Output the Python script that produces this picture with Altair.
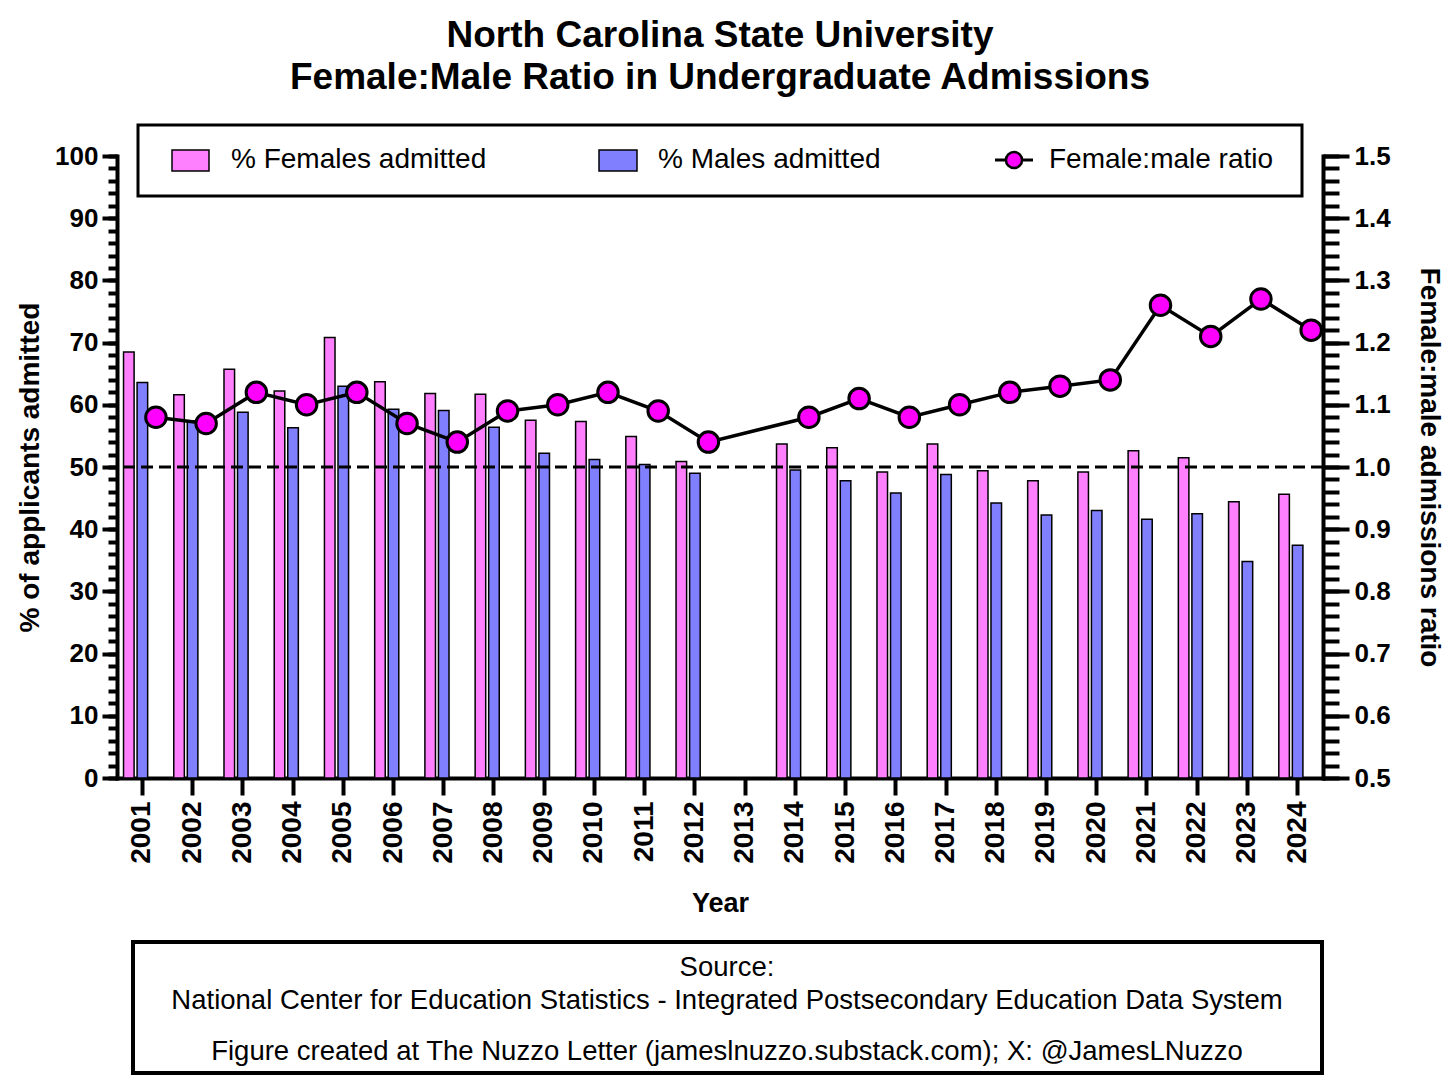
import altair as alt
import pandas as pd

# ---------------- data ----------------
YEARS = ["2001", "2002", "2003", "2004", "2005", "2006", "2007", "2008", "2009", "2010",
         "2011", "2012", "2013", "2014", "2015", "2016", "2017", "2018", "2019", "2020",
         "2021", "2022", "2023", "2024"]
DATA_YEARS = ["2001", "2002", "2003", "2004", "2005", "2006", "2007", "2008", "2009", "2010",
              "2011", "2012", "2014", "2015", "2016", "2017", "2018", "2019", "2020",
              "2021", "2022", "2023", "2024"]
FEMALE = [68.5, 61.6, 65.7, 62.2, 70.8, 63.7, 61.8, 61.7, 57.5, 57.3, 54.9, 50.9,
          53.7, 53.1, 49.2, 53.7, 49.4, 47.8, 49.2, 52.6, 51.5, 44.4, 45.6]
MALE = [63.6, 57.4, 58.8, 56.3, 63.0, 59.3, 59.1, 56.4, 52.2, 51.2, 50.4, 49.0,
        49.5, 47.8, 45.8, 48.8, 44.2, 42.3, 43.0, 41.6, 42.5, 34.8, 37.4]
RATIO = [1.08, 1.07, 1.12, 1.10, 1.12, 1.07, 1.04, 1.09, 1.10, 1.12, 1.09, 1.04,
         1.08, 1.11, 1.08, 1.10, 1.12, 1.13, 1.14, 1.26, 1.21, 1.27, 1.22]
REF_LEVEL = [50]

TITLE_LINES = ["North Carolina State University",
               "Female:Male Ratio in Undergraduate Admissions"]
LEGEND_LABELS = ["% Females admitted", "% Males admitted", "Female:male ratio"]
SOURCE_LINES = ["Source:",
                "National Center for Education Statistics - Integrated Postsecondary Education Data System",
                "Figure created at The Nuzzo Letter (jameslnuzzo.substack.com); X: @JamesLNuzzo"]
X_TITLE = "Year"
Y_LEFT_TITLE = "% of applicants admitted"
Y_RIGHT_TITLE = "Female:male admissions ratio"

# ---------------- styling ----------------
FONT = "Liberation Sans"
PINK = "#FF80FF"
BLUE = "#8080FF"
MAGENTA = "#FF00FF"
W, H = 1206, 622

n = len(DATA_YEARS)
bars_df = pd.DataFrame({
    "year": DATA_YEARS + DATA_YEARS,
    "slot": ["F"] * n + ["M"] * n,
    "value": FEMALE + MALE,
})
ratio_df = pd.DataFrame({"year": DATA_YEARS, "slot": ["R"] * n, "ratio": RATIO})
ref_df = pd.DataFrame({"v": REF_LEVEL})

XS = alt.Scale(domain=YEARS, paddingInner=0.25, paddingOuter=0.13)
XOS = alt.Scale(domain=["F", "M", "R"], paddingInner=0.22, paddingOuter=0)
YL = alt.Scale(domain=[0, 100], nice=False, zero=True)
YR = alt.Scale(domain=[0.5, 1.5], nice=False, zero=False)

x_axis = alt.Axis(orient="bottom", title=X_TITLE, labelAngle=270, labelAlign="right",
                  labelBaseline="middle", labelFontSize=28, labelFontWeight="bold", labelPadding=6,
                  tickSize=17, tickWidth=4, domainWidth=4, domainCap="square",
                  titleFontSize=27, titleFontWeight="bold", titlePadding=27)

left_major = alt.Axis(orient="left", values=list(range(0, 101, 10)), tickSize=15, tickWidth=4,
                      domainWidth=4, domainCap="square", labelFontSize=26, labelFontWeight="bold",
                      labelPadding=4, labelFlush=False, labelOverlap=False,
                      title=Y_LEFT_TITLE, titleFontSize=28, titleFontWeight="bold", titlePadding=10)
left_minor = alt.Axis(orient="left", values=list(range(0, 101, 2)), tickSize=9, tickWidth=4,
                      labels=False, domain=False, title=None)

right_major = alt.Axis(orient="right", values=[round(0.5 + 0.1 * i, 2) for i in range(11)],
                       format=".1f", tickSize=26, tickWidth=4, domainWidth=4, domainCap="square",
                       labelFontSize=26, labelFontWeight="bold", labelPadding=5, labelFlush=False,
                       labelOverlap=False, title=Y_RIGHT_TITLE, titleFontSize=28,
                       titleFontWeight="bold", titlePadding=24)
right_minor = alt.Axis(orient="right", values=[round(0.5 + 0.02 * i, 2) for i in range(51)],
                       tickSize=16, tickWidth=4, labels=False, domain=False, title=None)

X_ENC = alt.X("year:N", scale=XS, axis=x_axis)
XO_ENC = alt.XOffset("slot:N", scale=XOS)

bars = alt.Chart(bars_df).mark_bar(stroke="black", strokeWidth=1.5).encode(
    x=X_ENC,
    xOffset=XO_ENC,
    y=alt.Y("value:Q", scale=YL, axis=left_major),
    color=alt.Color("slot:N", scale=alt.Scale(domain=["F", "M"], range=[PINK, BLUE]), legend=None),
)

ref_rule = alt.Chart(ref_df).mark_rule(color="black", strokeWidth=3, strokeDash=[12, 6]).encode(
    y=alt.Y("v:Q", scale=YL, axis=left_minor),
)

line = alt.Chart(ratio_df).mark_line(color="black", strokeWidth=3.5).encode(
    x=X_ENC,
    xOffset=XO_ENC,
    y=alt.Y("ratio:Q", scale=YR, axis=right_major),
)

points = alt.Chart(ratio_df).mark_circle(size=420, fill=MAGENTA, stroke="black",
                                         strokeWidth=3, opacity=1).encode(
    x=X_ENC,
    xOffset=XO_ENC,
    y=alt.Y("ratio:Q", scale=YR, axis=right_minor),
)

one = alt.Data(values=[{"k": 0}])

# legend (drawn as a boxed key)
leg_box = alt.Chart(one).mark_rect(fill="white", stroke="black", strokeWidth=3).encode(
    x=alt.value(21), x2=alt.value(1185), y=alt.value(-31), y2=alt.value(40))
leg_f = alt.Chart(one).mark_rect(fill=PINK, stroke="black", strokeWidth=1.5).encode(
    x=alt.value(55), x2=alt.value(92), y=alt.value(-6), y2=alt.value(15))
leg_m = alt.Chart(one).mark_rect(fill=BLUE, stroke="black", strokeWidth=1.5).encode(
    x=alt.value(482), x2=alt.value(520), y=alt.value(-6), y2=alt.value(15))
leg_line = alt.Chart(one).mark_rule(color="black", strokeWidth=3).encode(
    x=alt.value(878), x2=alt.value(916), y=alt.value(4))
leg_pt = alt.Chart(one).mark_circle(size=260, fill=MAGENTA, stroke="black",
                                    strokeWidth=2.5, opacity=1).encode(
    x=alt.value(897), y=alt.value(4))
leg_texts = []
for lbl, xx in zip(LEGEND_LABELS, [114, 541, 932]):
    leg_texts.append(alt.Chart(one).mark_text(text=lbl, align="left", baseline="middle",
                                              fontSize=28, font=FONT, color="black").encode(
        x=alt.value(xx), y=alt.value(4)))

# source box
src_box = alt.Chart(one).mark_rect(fill="white", stroke="black", strokeWidth=4).encode(
    x=alt.value(16), x2=alt.value(1205), y=alt.value(786), y2=alt.value(917))
src_texts = []
for lbl, yy in zip(SOURCE_LINES, [812, 845, 896]):
    src_texts.append(alt.Chart(one).mark_text(text=lbl, align="center", baseline="middle",
                                              fontSize=27.5, font=FONT, color="black").encode(
        x=alt.value(610), y=alt.value(yy)))

chart = alt.layer(
    bars, ref_rule, line, points,
    leg_box, leg_f, leg_m, leg_line, leg_pt, *leg_texts,
    src_box, *src_texts,
).resolve_scale(y="independent").properties(
    width=W, height=H,
    autosize=alt.AutoSizeParams(type="none"),
    padding={"left": 109, "top": 148, "right": 125, "bottom": 297},
    title=alt.Title(TITLE_LINES, fontSize=37, fontWeight="bold", font=FONT, anchor="middle",
                    offset=27, lineHeight=42, color="black"),
).configure_view(strokeWidth=0).configure_axis(
    grid=False, labelFont=FONT, titleFont=FONT, domainColor="black", tickColor="black",
    labelColor="black", titleColor="black",
)

chart.save("out.html", embed_options={"renderer": "svg", "actions": False})
